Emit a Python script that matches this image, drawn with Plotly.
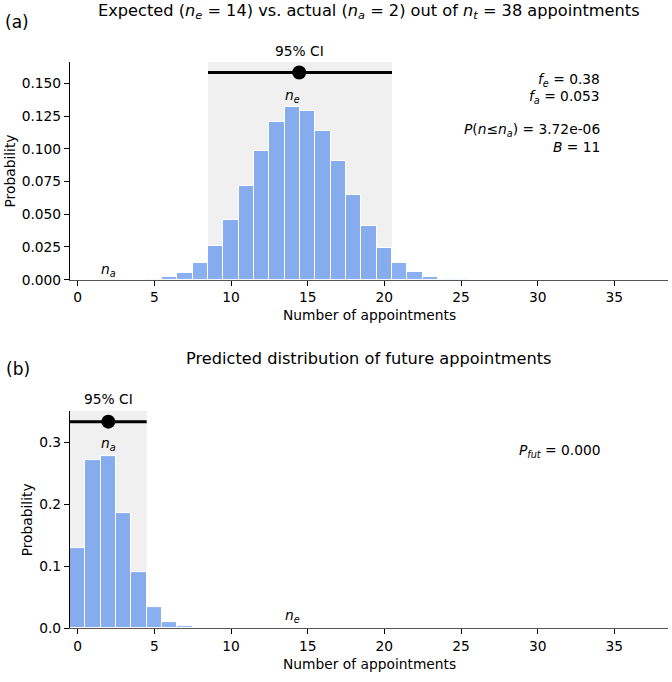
import plotly.graph_objects as go

W, H = 672, 682

# ---------------- data ----------------
n_values = list(range(0, 39))
prob_expected = [0, 0, 0, 0, 0, 0.0002, 0.0022, 0.0053, 0.0124, 0.0257,
                 0.0454, 0.0713, 0.0983, 0.1207, 0.1321, 0.1293, 0.1139, 0.0905,
                 0.0645, 0.0413, 0.0242, 0.0126, 0.0060, 0.0023, 0.0007, 0.0002,
                 0, 0, 0, 0, 0, 0, 0, 0, 0, 0, 0, 0, 0]
prob_future = [0.1285, 0.2708, 0.2777, 0.1858, 0.0908, 0.0340, 0.0102, 0.0032,
               0.0006, 0.0001, 0, 0, 0, 0, 0, 0, 0, 0, 0, 0, 0, 0, 0, 0, 0, 0,
               0, 0, 0, 0, 0, 0, 0, 0, 0, 0, 0, 0, 0]
x_ticks = [0, 5, 10, 15, 20, 25, 30, 35]
y_ticks_a = [0.0, 0.025, 0.05, 0.075, 0.1, 0.125, 0.15]
y_ticks_b = [0.0, 0.1, 0.2, 0.3]
ci_expected = [8.5, 20.5]
mean_expected = 14.45
ci_level_a = 0.1584
ci_future = [-0.5, 4.5]
mean_future = 2.0
ci_level_b = 0.333
n_e, n_a, n_t = 14, 2, 38
f_e, f_a = "0.38", "0.053"
p_le = "3.72e-06"
bayes = "11"
p_fut = "0.000"

FONT = "DejaVu Sans"
FS = 13.8
BAR_COLOR = "rgba(100,149,237,0.75)"


def px(x, y):
    return x / W, 1 - y / H


fig = go.Figure()

for xa, ya, probs in [("x", "y", prob_expected), ("x2", "y2", prob_future)]:
    fig.add_trace(go.Bar(x=n_values, y=probs, width=1.0, xaxis=xa, yaxis=ya,
                         marker=dict(color=BAR_COLOR, line=dict(color="white", width=1)),
                         showlegend=False, hoverinfo="x+y"))

for xa, ya, ci, m, lvl in [("x", "y", ci_expected, mean_expected, ci_level_a),
                           ("x2", "y2", ci_future, mean_future, ci_level_b)]:
    fig.add_trace(go.Scatter(x=ci, y=[lvl, lvl], mode="lines", xaxis=xa, yaxis=ya,
                             line=dict(color="black", width=3), showlegend=False,
                             cliponaxis=False))
    fig.add_trace(go.Scatter(x=[m], y=[lvl], mode="markers", xaxis=xa, yaxis=ya,
                             marker=dict(color="black", size=14), showlegend=False,
                             cliponaxis=False))

shapes = []
for xr, yr, ci in [("x", "y domain", ci_expected), ("x2", "y2 domain", ci_future)]:
    shapes.append(dict(type="rect", xref=xr, yref=yr, x0=ci[0], x1=ci[1], y0=0, y1=1,
                       fillcolor="#f0f0f0", line=dict(width=0), layer="below"))

ann = []


def add_text(text, x, y, size=FS, xanchor="center", yanchor="middle", xref="paper",
             yref="paper", angle=0):
    ann.append(dict(text=text, x=x, y=y, xref=xref, yref=yref, xanchor=xanchor,
                    yanchor=yanchor, showarrow=False, textangle=angle,
                    font=dict(family=FONT, size=size, color="black")))


def sub(base, s):
    return f"<i>{base}</i><sub><i>{s}</i></sub>"


# titles
x_c = 369
add_text("(a)", *px(3, 22), size=17, xanchor="left")
add_text("(b)", *px(4, 373), size=17, xanchor="left")
add_text(f"Expected ({sub('n', 'e')} = {n_e}) vs. actual ({sub('n', 'a')} = {n_a}) out of "
         f"{sub('n', 't')} = {n_t} appointments", *px(x_c, 12), size=16.2)
add_text("Predicted distribution of future appointments", *px(x_c, 363), size=16.2)

# axis titles
add_text("Number of appointments", *px(x_c, 318.5))
add_text("Number of appointments", *px(x_c, 671.5))
add_text("Probability", *px(9.5, 173), angle=-90)
add_text("Probability", *px(26.5, 526), angle=-90)

# CI labels
add_text("95% CI", mean_expected, px(0, 51.7)[1], xref="x")
add_text("95% CI", mean_future, px(0, 404)[1], xref="x2")

# n labels
add_text(sub("n", "e"), n_e, px(0, 96.7)[1], xref="x")
add_text(sub("n", "a"), n_a, px(0, 272.7)[1], xref="x")
add_text(sub("n", "a"), n_a, px(0, 449)[1], xref="x2")
add_text(sub("n", "e"), n_e, px(0, 623)[1], xref="x2")

# stats text
xr = 602 / W
add_text(f"{sub('f', 'e')} = {f_e}", xr, px(0, 80.7)[1], xanchor="right")
add_text(f"{sub('f', 'a')} = {f_a}", xr, px(0, 98)[1], xanchor="right")
add_text(f"<i>P</i>(<i>n</i>≤{sub('n', 'a')}) = {p_le}", xr, px(0, 131.7)[1], xanchor="right")
add_text(f"<i>B</i> = {bayes}", xr, px(0, 148.3)[1], xanchor="right")
add_text(f"{sub('P', 'fut')} = {p_fut}", xr, px(0, 456)[1], xanchor="right")

x_dom = [70 / W, 668 / W]
common_x = dict(domain=x_dom, range=[-0.5, 38.5], tickvals=x_ticks, ticks="outside",
                ticklen=5, tickcolor="black", showline=True, linecolor="#555555",
                linewidth=1.2, showgrid=False, zeroline=False,
                tickfont=dict(family=FONT, size=FS, color="black"))
common_y = dict(ticks="outside", ticklen=5, tickcolor="black", showline=True,
                linecolor="black", linewidth=1.2, showgrid=False, zeroline=False,
                tickfont=dict(family=FONT, size=FS, color="black"))

fig.update_layout(
    width=W, height=H, margin=dict(l=0, r=0, t=0, b=0),
    paper_bgcolor="white", plot_bgcolor="white",
    font=dict(family=FONT, size=FS, color="black"),
    bargap=0, showlegend=False,
    xaxis=dict(anchor="y", **common_x),
    xaxis2=dict(anchor="y2", **common_x),
    yaxis=dict(anchor="x", domain=[1 - 283 / H, 1 - 62.7 / H], range=[0, 0.1664],
               tickvals=y_ticks_a, ticktext=[f"{v:.3f}" for v in y_ticks_a], **common_y),
    yaxis2=dict(anchor="x2", domain=[1 - 635.7 / H, 1 - 416 / H], range=[0, 0.35],
                tickvals=y_ticks_b, ticktext=[f"{v:.1f}" for v in y_ticks_b], **common_y),
    shapes=shapes,
    annotations=ann,
)

fig.write_html("out.html")
